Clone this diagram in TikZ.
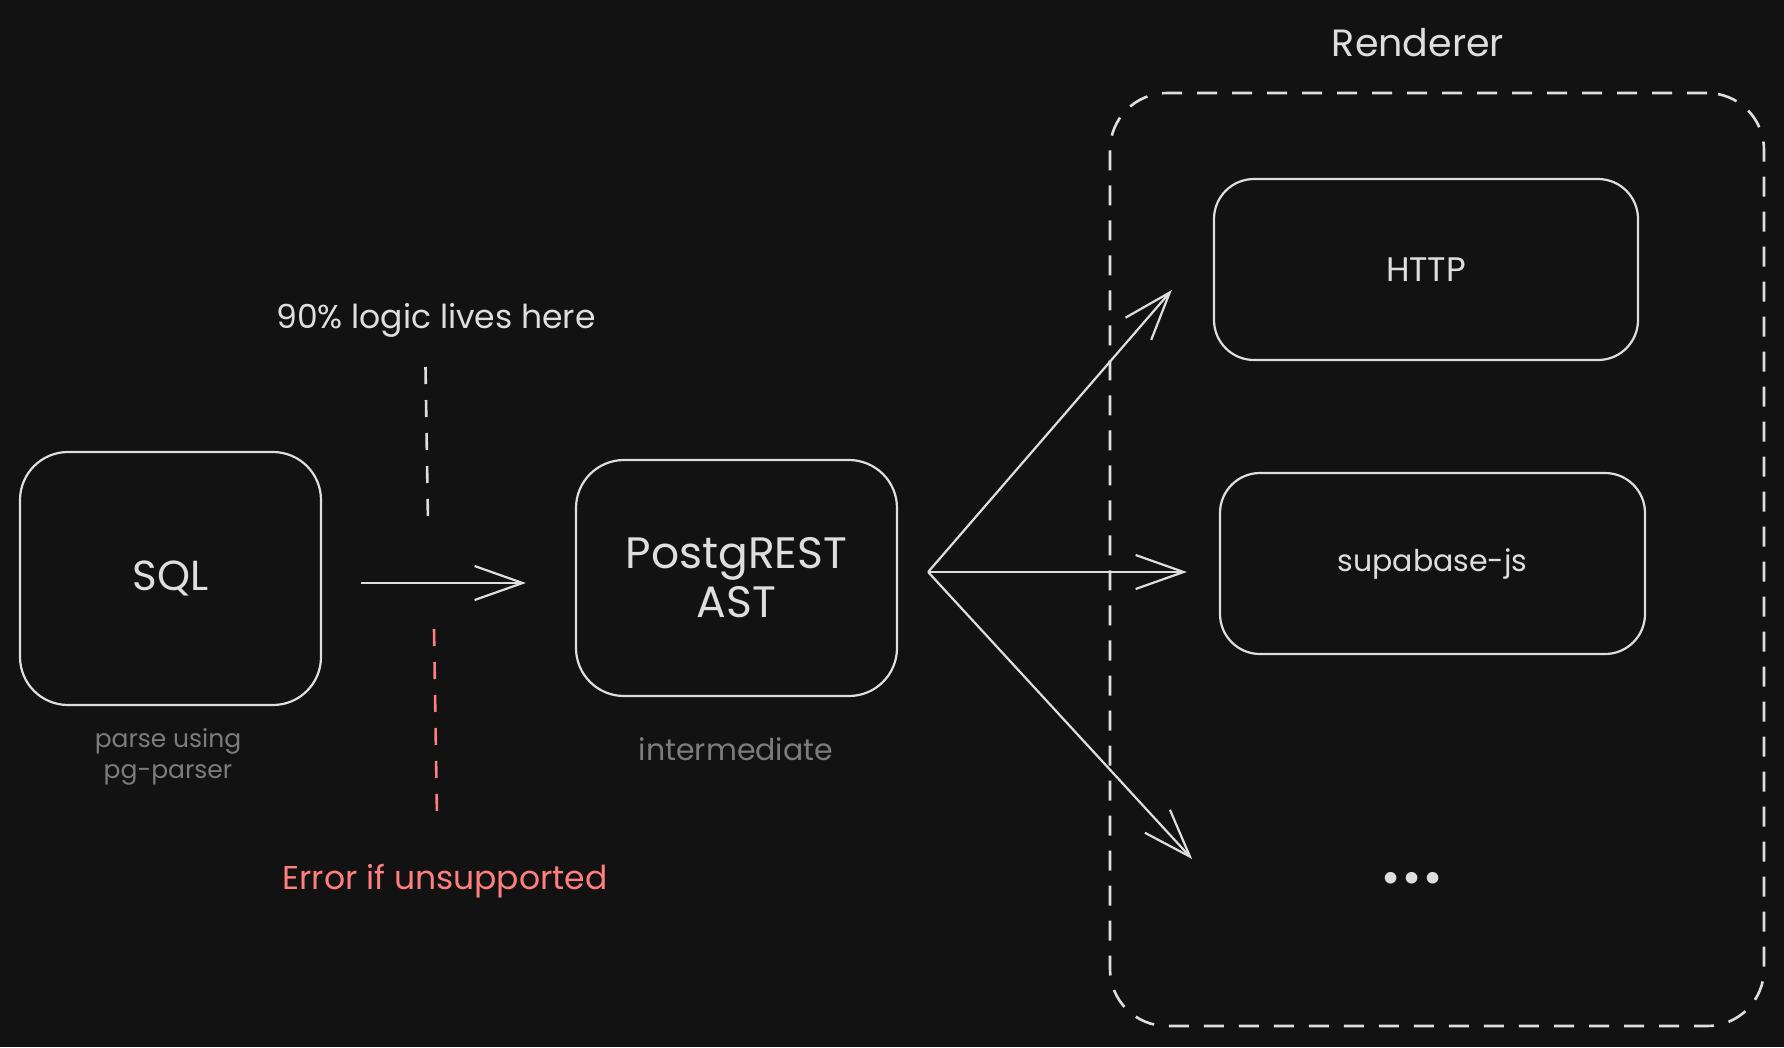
\documentclass[tikz,border=0pt]{standalone}
\usepackage{fontspec}
\setmainfont{Poppins}
\newfontfamily\dejavu{DejaVu Sans}
\usetikzlibrary{arrows.meta}
\definecolor{bg}{HTML}{121212}
\definecolor{ink}{HTML}{DEDEDE}
\definecolor{muted}{HTML}{7C7C7C}
\definecolor{errred}{HTML}{FF7F7F}
\newcommand{\fsz}[2]{\fontsize{#1}{#2}\selectfont}
\tikzset{
  box/.style={draw=ink, line width=2.2pt, inner sep=0pt, text=ink},
  container/.style={draw=ink, line width=2.6pt, dash pattern=on 20pt off 15pt, rounded corners=57pt, inner sep=0pt},
  arr/.style={draw=ink, line width=2.2pt, -{Straight Barb[length=48pt, width=34pt, line width=2.2pt]}},
  sepline/.style={line width=2.6pt, dash pattern=on 17pt off 16pt},
  lbl/.style={text=ink, inner sep=0pt},
  captxt/.style={text=muted, inner sep=0pt, align=center}
}
\begin{document}
\begin{tikzpicture}[x=1pt,y=-1pt]
\fill[bg] (0,0) rectangle (1784,1047);
\useasboundingbox (0,0) rectangle (1784,1047);

% renderer container
\node[container, minimum width=654pt, minimum height=933pt] (rend) at (1437,559.5) {};
\node[lbl, font=\fsz{38}{46}] (rendlbl) at (1418,43) {Renderer};

% main boxes
\node[box, rounded corners=48pt, minimum width=301pt, minimum height=253pt, font=\fsz{42}{50}] (sql) at (170.5,578.5) {SQL};
\node[box, rounded corners=48pt, minimum width=321pt, minimum height=236pt, align=center, font=\fsz{44}{49}] (ast) at (736.5,578) {PostgREST\\AST};
\node[box, rounded corners=40pt, minimum width=424pt, minimum height=181pt, font=\fsz{34}{40}] (http) at (1426,269.5) {HTTP};
\node[box, rounded corners=40pt, minimum width=425pt, minimum height=181pt, font=\fsz{30}{36}] (supa) at (1432.5,563.5) {supabase-js};
\node[lbl, font=\dejavu\bfseries\fsz{33}{40}] (dots) at (1412,881) {•••};

% captions
\node[captxt, font=\fsz{25}{31}] (sqlcap) at (168,757) {parse using\\pg-parser};
\node[captxt, font=\fsz{30}{36}] (astcap) at (736,749) {intermediate};
\node[lbl, font=\fsz{33}{40}] (logic) at (436,320) {90\% logic lives here};
\node[inner sep=0pt, text=errred, font=\fsz{33}{40}] (err) at (445,881) {Error if unsupported};

% separators
\coordinate (sepTop) at (425.5,367);
\coordinate (sepMid) at (428,523);
\coordinate (redTop) at (434,629);
\coordinate (redBot) at (437,817);
\draw[sepline, draw=ink] (sepTop) -- (sepMid);
\draw[sepline, draw=errred] (redTop) -- (redBot);

% arrows
\draw[arr] ([xshift=39pt,yshift=-4.5pt]sql.east) -- ([xshift=-49pt,yshift=-5pt]ast.west);
\draw[arr] ([xshift=30pt,yshift=6pt]ast.east) -- ([xshift=-41pt,yshift=-20.5pt]http.west);
\draw[arr] ([xshift=30pt,yshift=6pt]ast.east) -- ([xshift=-32pt,yshift=-8.5pt]supa.west);
\draw[arr] ([xshift=30pt,yshift=6pt]ast.east) -- ([xshift=-188pt,yshift=22pt]dots.west);
\end{tikzpicture}
\end{document}
